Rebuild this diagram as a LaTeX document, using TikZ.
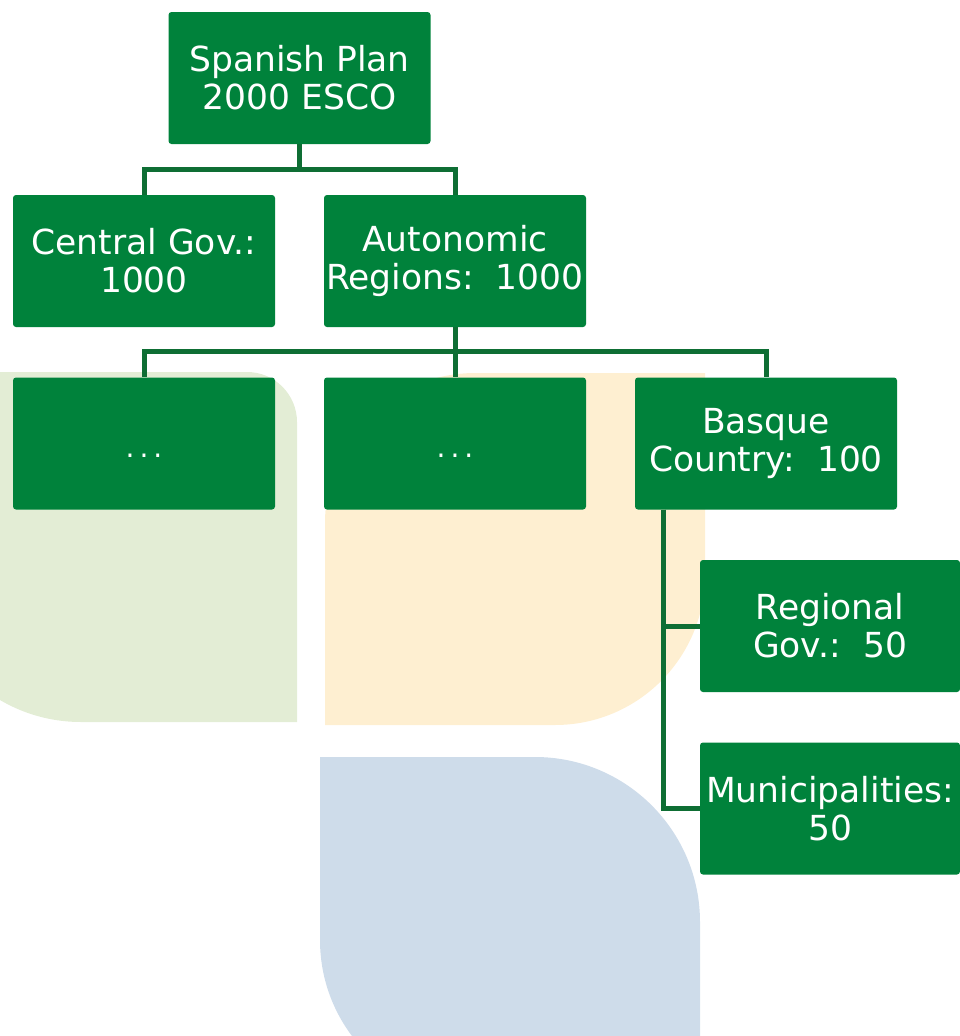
\documentclass[tikz,border=0pt]{standalone}
\usepackage{fontspec}
\setmainfont{DejaVu Sans}
\definecolor{boxgreen}{HTML}{00823B}
\definecolor{linkgreen}{HTML}{0E6E34}
\definecolor{leafgreen}{HTML}{E3EDD5}
\definecolor{leaforange}{HTML}{FEEFD1}
\definecolor{leafblue}{HTML}{CEDCEA}
\begin{document}
\begin{tikzpicture}[x=1pt,y=-1pt,
  orgbox/.style={fill=boxgreen, rounded corners=3pt, minimum width=262pt,
    minimum height=132pt, text=white, align=center, inner sep=0pt,
    font=\fontsize{34.5}{38}\selectfont},
  dotbox/.style={orgbox, font=\fontsize{28}{30}\selectfont},
  link/.style={draw=linkgreen, line width=5pt}]
\useasboundingbox (0,0) rectangle (960,1036);
% background leaves
\fill[leafgreen] (-79,372) -- (247,372) .. controls (274.6,372) and (297,394.4) .. (297,422)
  -- (297,722) -- (81,722) .. controls (-7.4,722) and (-79,650.4) .. (-79,562) -- cycle;
\fill[leaforange] (475,373) -- (705,373) -- (705,575) .. controls (705,657.8) and (637.8,725) .. (555,725)
  -- (325,725) -- (325,523) .. controls (325,440.2) and (392.2,373) .. (475,373) -- cycle;
\fill[leafblue] (320,757) -- (535,757) .. controls (626.1,757) and (700,830.9) .. (700,922)
  -- (700,1100) -- (480,1100) .. controls (391.6,1100) and (320,1028.4) .. (320,940) -- cycle;
% boxes
\node[orgbox] (top) at (299.5,78) {Spanish Plan\\2000 ESCO};
\node[orgbox] (central) at (144,261) {Central Gov.:\\1000};
\node[orgbox] (auton) at (455,261) {Autonomic\\Regions:\ \ 1000};
\node[dotbox] (d1) at (144,443.5) {\smash{\raisebox{-14pt}{.\hspace{5pt}.\hspace{5pt}.}}};
\node[dotbox] (d2) at (455,443.5) {\smash{\raisebox{-14pt}{.\hspace{5pt}.\hspace{5pt}.}}};
\node[orgbox] (basque) at (766,443.5) {Basque\\Country:\ \ 100};
\node[orgbox, minimum width=260pt] (regional) at (830,626) {Regional\\Gov.:\ \ 50};
\node[orgbox, minimum width=260pt] (muni) at (830,808.5) {Municipalities:\\50};
% connectors
\draw[link] (top.south) -- ++(0,25) -| (central.north);
\draw[link] (top.south) -- ++(0,25) -| (auton.north);
\draw[link] (auton.south) -- ++(0,24) -| (d1.north);
\draw[link] (auton.south) -- ++(0,24) -| (d2.north);
\draw[link] (auton.south) -- ++(0,24) -| (basque.north);
\coordinate (bq) at ([xshift=29pt]basque.south west);
\draw[link] (bq) |- (regional.west);
\draw[link] (bq) |- (muni.west);
\end{tikzpicture}
\end{document}
